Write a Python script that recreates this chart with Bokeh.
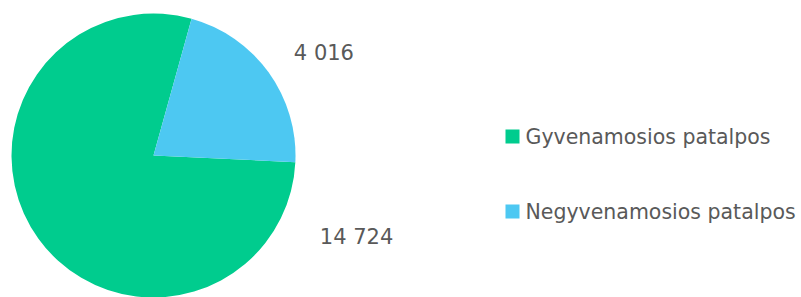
import math
from bokeh.plotting import figure
from bokeh.models import Range1d, ColumnDataSource
from bokeh.core.properties import value
from bokeh.embed import file_html
from bokeh.resources import INLINE

# ---- data ----
categories = ["Gyvenamosios patalpos", "Negyvenamosios patalpos"]
values = [14724, 4016]
value_labels = ["14 724", "4 016"]

# ---- style ----
colors = ["#00CC8E", "#4DC8F2"]
text_color = "#595959"
first_slice_deg = 92.7          # clockwise from 12 o'clock
label_angle_deg = [-21.8, 31.0]  # math angle of label placement
label_radius = [1.54, 1.40]      # in pie radii
W, H = 801, 297
cx, cy, r = 153, 142, 142

total = float(sum(values))
starts, ends = [], []
c = first_slice_deg
for v in values:
    span = v / total * 360.0
    starts.append(math.radians(90 - (c + span)))
    ends.append(math.radians(90 - c))
    c += span

pie = ColumnDataSource(dict(start=starts, end=ends, color=colors, cat=categories))

p = figure(width=W, height=H, output_backend="svg", toolbar_location=None,
           x_range=Range1d(0, W), y_range=Range1d(0, H),
           min_border=0, outline_line_color=None)
p.axis.visible = False
p.grid.visible = False
p.background_fill_color = "white"

p.wedge(x=cx, y=cy, radius=r, start_angle="start", end_angle="end",
        color="color", line_color=None, direction="anticlock", source=pie)

lx = [cx + r * k * math.cos(math.radians(a)) for a, k in zip(label_angle_deg, label_radius)]
ly = [cy + r * k * math.sin(math.radians(a)) for a, k in zip(label_angle_deg, label_radius)]
p.text(x=lx, y=ly, text=value_labels, text_align="center", text_baseline="middle",
       text_font=value("DejaVu Sans"), text_font_size="21px", text_color=text_color)

# legend (drawn manually)
leg_x, leg_top, leg_gap = 512, 161, 75
leg_y = [leg_top - i * leg_gap for i in range(len(categories))]
p.scatter(x=[leg_x] * len(categories), y=leg_y, marker="square", size=14,
          color=colors, line_color=None)
p.text(x=[leg_x + 13] * len(categories), y=leg_y, text=categories,
       text_align="left", text_baseline="middle",
       text_font=value("DejaVu Sans"), text_font_size="20.5px", text_color=text_color)

open("out.html", "w").write(file_html(p, INLINE))
